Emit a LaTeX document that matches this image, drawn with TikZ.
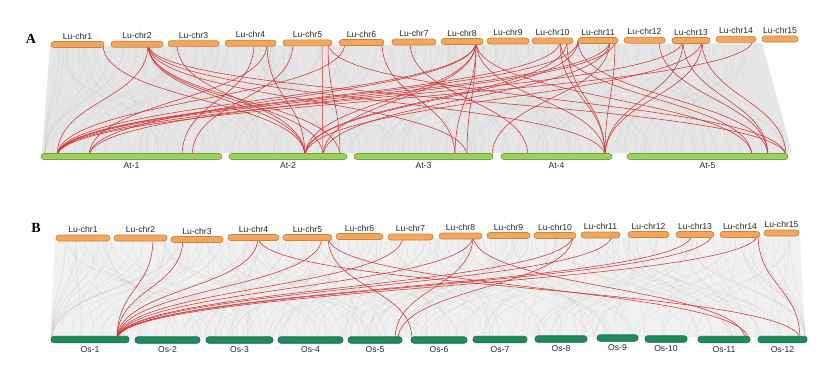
\documentclass[tikz,border=0pt]{standalone}
\usepackage{fontspec}
\setmainfont{Liberation Sans}
\newfontfamily\panelfont{Liberation Serif}
\definecolor{orF}{HTML}{F2A65E}
\definecolor{orD}{HTML}{C98435}
\definecolor{lgF}{HTML}{9BCF5E}
\definecolor{lgD}{HTML}{6FA53A}
\definecolor{dgF}{HTML}{1F8A5C}
\definecolor{dgD}{HTML}{17704A}
\definecolor{lnk}{HTML}{D8302E}
\definecolor{bgA}{HTML}{E6E6E6}
\definecolor{bgB}{HTML}{F1F1F1}
\begin{document}
\begin{tikzpicture}[x=1pt,y=-1pt,
  barbase/.style={rounded corners=2.8pt, line width=0.6pt, minimum height=6pt, inner sep=0pt, outer sep=0pt},
  chrbar/.style={barbase, draw=orD, fill=orF},
  atbar/.style={barbase, draw=lgD, fill=lgF},
  osbar/.style={barbase, draw=dgD, fill=dgF, minimum height=6.5pt},
  lab/.style={font=\fontsize{8.6}{10}\selectfont, text=black!85, inner sep=0pt},
  panel/.style={font=\panelfont\bfseries\fontsize{14}{14}\selectfont, inner sep=0pt},
  redlink/.style={draw=lnk, line width=0.55pt},
  bglink/.style={draw=gray!40, line width=0.25pt, opacity=0.6}
]
\useasboundingbox (0,0) rectangle (831,375);
\fill[white] (0,0) rectangle (831,375);

% ---------- backgrounds ----------
\fill[bgA] (50,46) -- (762,43) -- (792,153) -- (42,153) -- cycle;
\fill[bgB] (55,241) -- (800,236) -- (805,337) -- (50,337) -- cycle;
\pgfmathsetseed{11}
\foreach \i in {1,...,220}{
  \pgfmathsetmacro\xa{55+700*rnd}
  \pgfmathsetmacro\xb{\xa+(rnd-0.5)*300}
  \pgfmathsetmacro\xc{min(max(\xb,45),785)}
  \draw[bglink] (\xa,45) .. controls +(0,57) and +(0,-57) .. (\xc,155);
}
\foreach \i in {1,...,260}{
  \pgfmathsetmacro\xa{58+740*rnd}
  \pgfmathsetmacro\xb{\xa+(rnd-0.5)*360}
  \pgfmathsetmacro\xc{min(max(\xb,52),805)}
  \draw[bglink] (\xa,238) .. controls +(0,52) and +(0,-52) .. (\xc,339);
}

% ---------- anchor coordinates ----------
\foreach \x in {103,148,177,254,267,293,322,328,345,382,410,476,560,567,578,610,615,659,683,702,753}
  \coordinate (tA\x) at (\x,{44.8-(\x-51)*0.0075});
\foreach \x in {57,89,182,192,305,323,340,455,467,492,528,605,752,768,786}
  \coordinate (bA\x) at (\x,156.5);
\foreach \x in {153,183,258,322,328,403,473,573,612,692,712,758}
  \coordinate (tB\x) at (\x,{238.5-(\x-56)*0.0068});
\foreach \x in {117,395,398,412,745,748,800}
  \coordinate (bB\x) at (\x,339.5);

% ---------- red links ----------
\foreach \t/\b in {148/57,293/192,345/57,476/57,560/57,578/57,610/57,683/57,753/57,
  267/89,476/89,615/89,254/182,
  103/305,148/305,148/323,177/305,267/305,476/305,567/305,578/305,702/305,
  322/323,476/323,610/323,328/340,148/340,
  476/455,382/455,148/467,476/467,610/492,410/528,
  560/605,567/605,615/605,683/605,702/605,148/605,476/605,
  560/752,476/752,659/768,683/768,578/768,702/786,148/786,328/786}
  \draw[redlink] (tA\t) .. controls +(0,57) and +(0,-57) .. (bA\b);
\foreach \t/\b in {153/117,183/117,258/117,322/117,403/117,473/117,573/117,612/117,692/117,712/117,758/117,
  473/395,573/398,328/412,258/800,328/748,473/745,758/800}
  \draw[redlink] (tB\t) .. controls +(0,52) and +(0,-52) .. (bB\b);

% ---------- panel A bars ----------
\foreach \n/\a/\b/\y in {1/51/104/44.5,2/111/163/44.2,3/168/219/43.6,4/225/276/43.2,5/283/332/42.8,
  6/339/384/42.5,7/392/436/42,8/441/483/41.5,9/487/529/41,10/532/573/40.8,11/578/618/40.5,
  12/624/665/40.3,13/672/710/40.5,14/716/756/39.3,15/762/798/39}{
  \pgfmathsetmacro\c{(\a+\b)/2}
  \pgfmathsetmacro\w{\b-\a}
  \node[chrbar, minimum width=\w pt] (Achr\n) at (\c,\y) {};
  \node[lab] (Alab\n) at (\c,\y-8.5) {Lu-chr\n};
}
\foreach \n/\a/\b in {1/41/222,2/229/347,3/354/493,4/501/612,5/627/788}{
  \pgfmathsetmacro\c{(\a+\b)/2}
  \pgfmathsetmacro\w{\b-\a}
  \node[atbar, minimum width=\w pt] (At\n) at (\c,156.5) {};
  \node[lab] (Atlab\n) at (\c,166) {At-\n};
}
\node[panel] (pA) at (31,39) {A};

% ---------- panel B bars ----------
\foreach \n/\a/\b/\y in {1/56/110/238,2/114/167/238,3/171/223/239.5,4/228/279/237.5,5/283/332/237.5,
  6/336/383/236.5,7/388/433/237,8/439/482/236,9/487/530/235.5,10/534/576/235.5,11/581/620/235,
  12/628/669/234.5,13/676/714/234.5,14/720/760/234.5,15/764/799/233}{
  \pgfmathsetmacro\c{(\a+\b)/2}
  \pgfmathsetmacro\w{\b-\a}
  \node[chrbar, minimum width=\w pt] (Bchr\n) at (\c,\y) {};
  \node[lab] (Blab\n) at (\c,\y-8.5) {Lu-chr\n};
}
\foreach \n/\a/\b/\y in {1/51/129/339.5,2/135/200/340,3/206/273/340,4/278/343/340,5/348/402/340,
  6/411/467/340,7/473/527/339.5,8/535/587/339,9/597/638/338,10/645/687/339,11/698/750/339.5,12/758/807/339.5}{
  \pgfmathsetmacro\c{(\a+\b)/2}
  \pgfmathsetmacro\w{\b-\a}
  \node[osbar, minimum width=\w pt] (Os\n) at (\c,\y) {};
  \node[lab] (Oslab\n) at (\c,\y+10) {Os-\n};
}
\node[panel] (pB) at (36,227.5) {B};
\end{tikzpicture}
\end{document}
